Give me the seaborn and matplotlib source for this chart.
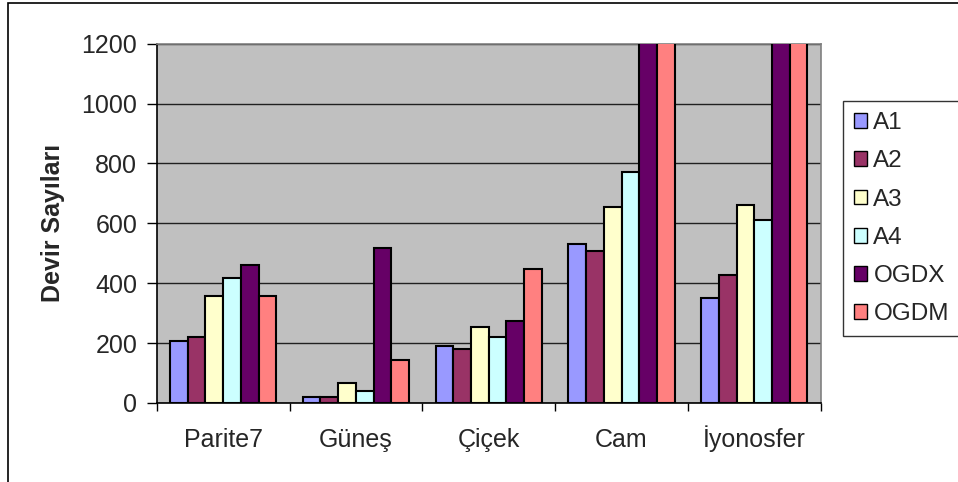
import matplotlib
matplotlib.use("Agg")
import matplotlib.pyplot as plt
from matplotlib.patches import Patch, Rectangle
import numpy as np
import pandas as pd
import seaborn as sns

categories = ["Parite7", "Güneş", "Çiçek", "Cam", "İyonosfer"]
series = ["A1", "A2", "A3", "A4", "OGDX", "OGDM"]
a1 = [207, 19, 190, 532, 350]
a2 = [222, 21, 182, 506, 428]
a3 = [357, 66, 255, 654, 662]
a4 = [416, 41, 222, 771, 610]
ogdx = [460, 519, 273, 1650, 1900]
ogdm = [357, 144, 449, 1500, 1750]
colors = ["#9999FF", "#993366", "#FFFFCC", "#CCFFFF", "#660066", "#FF8080"]
yticks = [0, 200, 400, 600, 800, 1000, 1200]
ylabel = "Devir Sayıları"

values = [a1, a2, a3, a4, ogdx, ogdm]
df = pd.DataFrame(
    [(c, s, v[i]) for s, v in zip(series, values) for i, c in enumerate(categories)],
    columns=["veri", "yontem", "devir"],
)

sns.set_theme(style="white")
plt.rcParams["font.family"] = ["Liberation Sans", "DejaVu Sans"]

W, H = 958, 482
fig = plt.figure(figsize=(W / 100, H / 100), dpi=100)
ax = fig.add_axes([156.7 / W, 1 - 403 / H, (820.7 - 156.7) / W, (403 - 43.7) / H])
ax.set_facecolor("#C0C0C0")

sns.barplot(
    data=df, x="veri", y="devir", hue="yontem", order=categories,
    hue_order=series, palette=colors, width=0.8, edgecolor="black",
    linewidth=1.5, saturation=1, errorbar=None, legend=False, ax=ax, zorder=3,
)

ax.set_ylim(0, 1200)
ax.set_xlim(-0.5, len(categories) - 0.5)
ax.set_yticks(yticks)
ax.yaxis.grid(True, color="#202020", linewidth=1.0, zorder=1)
ax.set_axisbelow(True)

ax.set_xlabel("")
ax.set_ylabel(ylabel, fontsize=18, fontweight="bold", labelpad=12)
ax.tick_params(axis="y", which="major", direction="out", length=7, width=1,
               color="black", pad=7, labelsize=18, left=True)
ax.tick_params(axis="x", which="major", length=0, pad=31.5, labelsize=18)
for lbl in ax.get_xticklabels():
    lbl.set_verticalalignment("baseline")
ax.set_xticks(np.arange(-0.5, len(categories), 1.0), minor=True)
ax.tick_params(axis="x", which="minor", direction="out", length=6, width=1,
               color="black", bottom=True)

for side in ["top", "right"]:
    ax.spines[side].set_color("#808080")
    ax.spines[side].set_linewidth(1.2)
for side in ["left", "bottom"]:
    ax.spines[side].set_color("black")
    ax.spines[side].set_linewidth(1.2)

handles = [Patch(facecolor=c, edgecolor="black", linewidth=1.0, label=s)
           for c, s in zip(colors, series)]
leg = fig.legend(
    handles=handles, loc="upper left", bbox_to_anchor=(843 / W, 1 - 101 / H),
    fontsize=17.5, frameon=True, fancybox=False, handlelength=0.55,
    handleheight=0.55, handletextpad=0.25, labelspacing=0.67, borderpad=0.45,
    borderaxespad=0,
)
leg.get_frame().set_edgecolor("black")
leg.get_frame().set_linewidth(1.0)

fig.patches.append(Rectangle((8 / W, -0.1), 1.2, 1.1 - 3 / H,
                             transform=fig.transFigure, fill=False,
                             edgecolor="black", linewidth=1.2))

fig.savefig("out.png", dpi=100, facecolor="white")
